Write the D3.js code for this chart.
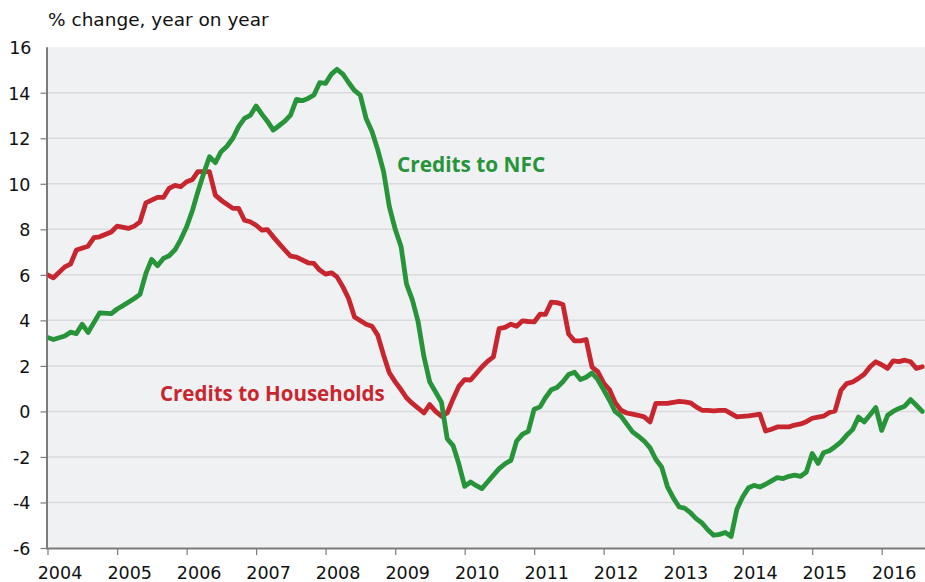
<!DOCTYPE html>
<html><head><meta charset="utf-8">
<script src="https://cdn.jsdelivr.net/npm/d3@7"></script>
<style>html,body{margin:0;padding:0;background:#fff;}svg{display:block;}</style>
</head><body>
<svg id="chart" width="925" height="582"></svg>
<script>
// ---- data (month index from Jan 2004 -> value, % y/y) ----
const yearTicks = [2004,2005,2006,2007,2008,2009,2010,2011,2012,2013,2014,2015,2016];
const yTicks = [-6,-4,-2,0,2,4,6,8,10,12,14,16];
const titleText = "% change, year on year";
const seriesNames = ["Credits to NFC", "Credits to Households"];

const hhMonths = [0,1,3,4,5,7,8,9,11,12,14,15,16,17,18,19,20,21,22,23,24,25,26,28,29,30,32,33,34,35,36,37,38,39,40,41,42,43,45,46,47,48,49,50,51,52,53,55,56,57,58,59,60,61,62,63,64,65,66,67,68,69,70,71,72,73,74,75,76,77,78,79,80,81,82,83,84,85,86,87,88,89,90,91,92,93,94,95,96,97,98,99,100,101,102,103,104,105,106,107,108,109,110,111,112,113,114,115,116,117,118,119,120,121,122,123,124,125,126,127,128,129,130,131,132,133,134,135,136,137,138,139,140,141,142,143,144,145,146,147,148,149,150,151];
const hhValues = [6.00,5.87,6.35,6.47,7.09,7.26,7.63,7.67,7.88,8.14,8.04,8.14,8.33,9.16,9.28,9.40,9.40,9.80,9.93,9.87,10.09,10.19,10.53,10.53,9.50,9.28,8.92,8.92,8.40,8.33,8.18,7.96,7.99,7.67,7.38,7.09,6.82,6.78,6.53,6.50,6.21,6.03,6.09,5.91,5.47,4.96,4.15,3.83,3.74,3.35,2.47,1.70,1.30,0.95,0.60,0.35,0.15,-0.07,0.30,0.00,-0.21,-0.07,0.55,1.10,1.40,1.38,1.65,1.95,2.20,2.40,3.64,3.69,3.83,3.74,3.98,3.95,3.93,4.27,4.26,4.80,4.78,4.70,3.40,3.10,3.10,3.16,1.95,1.75,1.25,0.95,0.40,0.05,-0.07,-0.12,-0.17,-0.24,-0.46,0.35,0.35,0.35,0.40,0.44,0.42,0.38,0.20,0.05,0.05,0.02,0.05,0.05,-0.10,-0.24,-0.22,-0.20,-0.16,-0.12,-0.86,-0.78,-0.68,-0.68,-0.68,-0.60,-0.55,-0.45,-0.30,-0.25,-0.21,-0.05,0.02,0.93,1.22,1.29,1.45,1.63,1.96,2.18,2.05,1.89,2.22,2.19,2.25,2.18,1.89,1.96];

const nfcMonths = [0,1,3,4,5,6,7,9,11,12,13,14,15,16,17,18,19,20,21,22,23,24,25,26,27,28,29,30,31,32,33,34,35,36,37,38,39,40,41,42,43,44,45,46,47,48,49,50,51,52,53,54,55,56,57,58,59,60,61,62,63,64,65,66,67,68,69,70,71,72,73,74,75,76,77,78,79,80,81,82,83,84,85,86,87,88,89,90,91,92,93,94,95,96,97,98,99,100,101,102,103,104,105,106,107,108,109,110,111,112,113,114,115,116,117,118,119,120,121,122,123,124,125,126,127,128,129,130,131,132,133,134,135,136,137,138,139,140,141,142,143,144,145,146,147,148,149,150,151];
const nfcValues = [3.25,3.16,3.31,3.48,3.42,3.83,3.47,4.33,4.30,4.50,4.65,4.80,4.96,5.14,6.06,6.68,6.40,6.72,6.84,7.10,7.55,8.11,8.84,9.65,10.46,11.19,10.93,11.41,11.65,12.00,12.51,12.87,13.00,13.42,13.05,12.75,12.36,12.55,12.75,13.02,13.71,13.65,13.75,13.90,14.44,14.41,14.82,15.03,14.82,14.45,14.10,13.90,12.87,12.30,11.50,10.53,9.00,8.00,7.23,5.60,4.90,3.95,2.40,1.30,0.85,0.40,-1.20,-1.50,-2.30,-3.29,-3.10,-3.25,-3.39,-3.10,-2.80,-2.51,-2.30,-2.15,-1.30,-1.00,-0.88,0.10,0.20,0.60,0.95,1.05,1.30,1.62,1.72,1.40,1.50,1.69,1.40,0.95,0.49,0.00,-0.21,-0.55,-0.90,-1.09,-1.30,-1.60,-2.10,-2.45,-3.30,-3.80,-4.20,-4.25,-4.45,-4.71,-4.90,-5.20,-5.44,-5.40,-5.32,-5.49,-4.30,-3.75,-3.35,-3.25,-3.32,-3.20,-3.05,-2.91,-2.95,-2.85,-2.80,-2.85,-2.66,-1.85,-2.29,-1.82,-1.73,-1.55,-1.34,-1.05,-0.80,-0.25,-0.46,-0.15,0.17,-0.83,-0.17,0.00,0.13,0.23,0.52,0.27,0.00];

// ---- layout ----
const W = 925, H = 582;
const plot = {left: 47.5, right: 925, top: 47.2, bottom: 548};
const colors = {nfc: "#27943a", hh: "#c8262f", bg: "#f0f1f3", grid: "#d9dade", axis: "#7c7c7c", text: "#111"};
const fontAxis = "'DejaVu Sans', sans-serif";

const svg = d3.select("#chart");
const toDate = m => new Date(2004 + Math.floor(m / 12), m % 12, 1);

const x = d3.scaleTime()
  .domain([new Date(2004,0,1), new Date(2016,0,1)])
  .range([47.5, 881.7]);
const y = d3.scaleLinear().domain([-6, 16]).range([plot.bottom, plot.top]);

// background
svg.append("rect").attr("x", plot.left).attr("y", plot.top)
  .attr("width", plot.right - plot.left).attr("height", plot.bottom - plot.top)
  .attr("fill", colors.bg);

// gridlines
svg.append("g").selectAll("line").data(yTicks.filter(v => v > -6 && v < 16)).join("line")
  .attr("x1", plot.left).attr("x2", plot.right)
  .attr("y1", d => y(d)).attr("y2", d => y(d))
  .attr("stroke", colors.grid).attr("stroke-width", 1.5);

// y axis
const yAxis = d3.axisLeft(y).tickValues(yTicks.filter(v => v < 16)).tickSize(7).tickPadding(9).tickFormat(d => String(d));
const gy = svg.append("g").attr("transform", `translate(${plot.left},0)`).call(yAxis);
gy.select(".domain").remove();
gy.selectAll(".tick line").attr("stroke", colors.axis).attr("stroke-width", 1.2);
gy.selectAll(".tick text").attr("font-family", fontAxis).attr("font-size", 17.5).attr("fill", colors.text)
  .attr("x", -17).attr("dy", "0.36em");
// label for 16 (no tick)
svg.append("text").attr("x", plot.left - 16).attr("y", y(16)).attr("dy", "0.36em")
  .attr("text-anchor", "end").attr("font-family", fontAxis).attr("font-size", 17.5).attr("fill", colors.text)
  .text(String(yTicks[yTicks.length - 1]));

// x axis
const xAxis = d3.axisBottom(x).tickValues(yearTicks.map(yy => new Date(yy,0,1))).tickSize(7).tickFormat(d3.timeFormat("%Y"));
const gx = svg.append("g").attr("transform", `translate(0,${plot.bottom})`).call(xAxis);
gx.select(".domain").remove();
gx.selectAll(".tick line").attr("stroke", colors.axis).attr("stroke-width", 1.2);
gx.selectAll(".tick text").attr("font-family", fontAxis).attr("font-size", 17.5).attr("fill", colors.text)
  .attr("x", 12).attr("y", 0).attr("dy", 31);

// axis lines
svg.append("line").attr("x1", plot.left - 0.5).attr("x2", plot.left - 0.5).attr("y1", plot.top).attr("y2", plot.bottom + 1)
  .attr("stroke", colors.axis).attr("stroke-width", 2);
svg.append("line").attr("x1", plot.left - 1.5).attr("x2", plot.right).attr("y1", plot.bottom + 0.5).attr("y2", plot.bottom + 0.5)
  .attr("stroke", colors.axis).attr("stroke-width", 2);

// clip
svg.append("clipPath").attr("id", "clip").append("rect")
  .attr("x", plot.left).attr("y", 0).attr("width", plot.right - plot.left).attr("height", H);

const line = d3.line().x(d => x(toDate(d[0]))).y(d => y(d[1])).curve(d3.curveLinear);
const hhData = hhMonths.map((m,i) => [m, hhValues[i]]);
const nfcData = nfcMonths.map((m,i) => [m, nfcValues[i]]);

const gl = svg.append("g").attr("clip-path", "url(#clip)");
gl.append("path").datum(hhData).attr("d", line).attr("fill", "none")
  .attr("stroke", colors.hh).attr("stroke-width", 4.8).attr("stroke-linejoin", "round").attr("stroke-linecap", "round");
gl.append("path").datum(nfcData).attr("d", line).attr("fill", "none")
  .attr("stroke", colors.nfc).attr("stroke-width", 4.8).attr("stroke-linejoin", "round").attr("stroke-linecap", "round");

// title
svg.append("text").attr("x", 48).attr("y", 26).attr("font-family", fontAxis).attr("font-size", 18.5)
  .attr("fill", colors.text).text(titleText);

// series labels
svg.append("text").attr("x", 397).attr("y", 171.5).attr("font-family", "'Open Sans', sans-serif")
  .attr("font-weight", "bold").attr("font-size", 20.8).attr("fill", colors.nfc).text(seriesNames[0]);
svg.append("text").attr("x", 160).attr("y", 401).attr("font-family", "'Open Sans', sans-serif")
  .attr("font-weight", "bold").attr("font-size", 20.5).attr("fill", colors.hh).text(seriesNames[1]);
</script>
</body></html>
